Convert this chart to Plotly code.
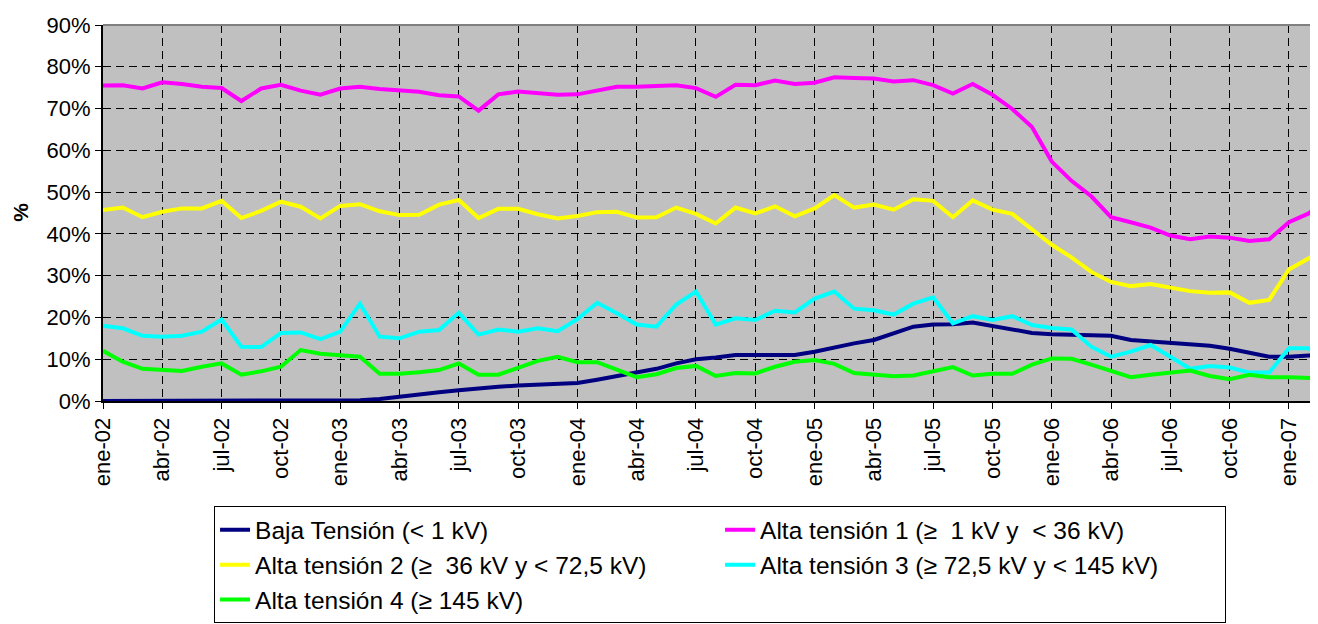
import plotly.graph_objects as go

months = ["ene", "feb", "mar", "abr", "may", "jun", "jul", "ago", "sep", "oct", "nov", "dic"]
categories = [f"{m}-{y:02d}" for y in range(2, 8) for m in months][:63]  # ene-02 .. mar-07

baja = [0.0, 0.0, 0.0, 0.0, 0.1, 0.1, 0.1, 0.1, 0.1, 0.1, 0.1, 0.1, 0.1, 0.2, 0.5, 1.1, 1.5, 2.1,
        2.6, 3.1, 3.4, 3.7, 3.9, 3.9, 4.3, 5.1, 5.9, 6.7, 7.7, 9.0, 10.0, 10.4, 11.0, 11.0, 11.0, 11.0,
        11.8, 12.9, 13.8, 14.6, 16.2, 17.8, 18.3, 18.4, 18.8, 18.0, 17.1, 16.3, 16.0, 15.9, 15.6, 15.6,
        14.6, 14.2, 14.0, 13.4, 13.2, 12.5, 11.6, 10.6, 10.6, 10.9, 10.5]
alta1 = [75.5, 75.6, 74.8, 76.3, 75.9, 75.2, 74.9, 71.8, 74.8, 75.7, 74.3, 73.3, 74.8, 75.2, 74.7, 74.3,
         74.0, 73.2, 72.9, 69.5, 73.4, 74.1, 73.8, 73.3, 73.4, 74.2, 75.2, 75.2, 75.4, 75.6, 74.9, 72.8,
         75.7, 75.6, 76.7, 75.9, 76.2, 77.5, 77.3, 77.2, 76.5, 76.8, 75.6, 73.6, 75.9, 73.3, 69.9, 65.6,
         57.3, 52.7, 49.0, 44.0, 42.8, 41.5, 39.6, 38.7, 39.4, 39.1, 38.3, 38.7, 42.8, 44.9, 48.7]
alta2 = [45.7, 46.3, 44.0, 45.3, 46.1, 46.1, 47.9, 43.8, 45.5, 47.7, 46.5, 43.7, 46.7, 47.1, 45.4, 44.5,
         44.6, 47.0, 48.1, 43.8, 46.0, 46.0, 44.7, 43.7, 44.3, 45.2, 45.3, 43.9, 44.0, 46.3, 44.8, 42.5,
         46.3, 44.9, 46.6, 44.2, 46.1, 49.3, 46.3, 47.0, 45.8, 48.3, 47.9, 44.0, 48.0, 45.8, 44.8, 41.0,
         37.4, 34.4, 30.9, 28.5, 27.5, 28.0, 27.2, 26.3, 25.9, 26.0, 23.5, 24.2, 31.5, 34.2, 36.8]
alta3 = [18.0, 17.4, 15.6, 15.4, 15.6, 16.6, 19.5, 13.0, 12.9, 16.3, 16.4, 14.8, 16.6, 23.3, 15.4, 15.0,
         16.6, 17.0, 21.1, 15.9, 17.1, 16.6, 17.4, 16.7, 19.6, 23.5, 21.0, 18.3, 17.8, 23.1, 26.2, 18.3,
         19.8, 19.4, 21.6, 21.2, 24.5, 26.2, 22.1, 21.7, 20.7, 23.3, 24.8, 18.6, 20.3, 19.4, 20.3, 18.2,
         17.5, 17.1, 13.0, 10.6, 11.8, 13.4, 10.6, 7.7, 8.4, 8.0, 6.8, 6.8, 12.6, 12.6, 8.7]
alta4 = [12.0, 9.4, 7.7, 7.5, 7.2, 8.2, 9.0, 6.3, 7.1, 8.2, 12.2, 11.3, 10.9, 10.6, 6.5, 6.5,
         6.9, 7.4, 9.0, 6.3, 6.3, 7.9, 9.6, 10.6, 9.3, 9.3, 7.5, 5.7, 6.4, 7.9, 8.4, 6.0,
         6.7, 6.6, 8.2, 9.4, 9.8, 8.9, 6.7, 6.3, 5.9, 6.1, 7.2, 8.1, 6.1, 6.5, 6.5, 8.7,
         10.2, 10.1, 8.7, 7.1, 5.7, 6.3, 6.9, 7.3, 6.0, 5.2, 6.3, 5.7, 5.7, 5.5, 5.3]

series_names = ["Baja Tensión (< 1 kV)", "Alta tensión 1 (≥  1 kV y  < 36 kV)",
                "Alta tensión 2 (≥  36 kV y < 72,5 kV)", "Alta tensión 3 (≥ 72,5 kV y < 145 kV)",
                "Alta tensión 4 (≥ 145 kV)"]
series_values = [baja, alta1, alta2, alta3, alta4]
series_colors = ["#000080", "#FF00FF", "#FFFF00", "#00FFFF", "#00FF00"]

tick_labels = categories[::3]
y_ticks = list(range(0, 100, 10))

fig = go.Figure()
for name, vals, col in zip(series_names, series_values, series_colors):
    fig.add_trace(go.Scatter(x=categories, y=vals, mode="lines", name=name,
                             line=dict(color=col, width=4)))

font_family = "Liberation Sans, Arial, sans-serif"
# page body has an 8px default margin, so the figure is 8px smaller and offsets are reduced by 8
fig.update_layout(
    width=1310, height=616,
    margin=dict(l=95, r=0, t=17, b=221),
    paper_bgcolor="white", plot_bgcolor="#C0C0C0",
    font=dict(family=font_family, color="black", size=22),
    showlegend=True,
    legend=dict(orientation="h", x=0.0914, xanchor="left", y=-0.2804, yanchor="top",
                bgcolor="white", bordercolor="black", borderwidth=1,
                font=dict(size=24.5, family=font_family), entrywidth=460, entrywidthmode="pixels",
                traceorder="normal"),
    xaxis=dict(type="category", range=[0, 61.47], tickmode="array", tickvals=tick_labels,
               ticktext=tick_labels, tickangle=-90, ticks="outside", ticklen=6, tickcolor="black",
               showgrid=True, gridcolor="black", gridwidth=1, griddash="8px,5px",
               showline=True, linecolor="black", linewidth=2, zeroline=False,
               tickfont=dict(size=22)),
    yaxis=dict(range=[0, 90], tickmode="array", tickvals=y_ticks,
               ticktext=[f"{v}%" for v in y_ticks], ticks="outside", ticklen=6, tickcolor="black",
               showgrid=True, gridcolor="black", gridwidth=1, griddash="8px,5px",
               showline=True, linecolor="black", linewidth=2, zeroline=False,
               tickfont=dict(size=22)),
    shapes=[dict(type="line", xref="paper", yref="paper", x0=0, x1=1, y0=1, y1=1,
                 line=dict(color="#808080", width=2))],
    annotations=[dict(text="<b>%</b>", xref="paper", yref="paper", x=-0.0675, y=0.503,
                      xanchor="center", yanchor="middle",
                      showarrow=False, textangle=-90, font=dict(size=21, family=font_family))],
)

fig.write_html("out.html")
